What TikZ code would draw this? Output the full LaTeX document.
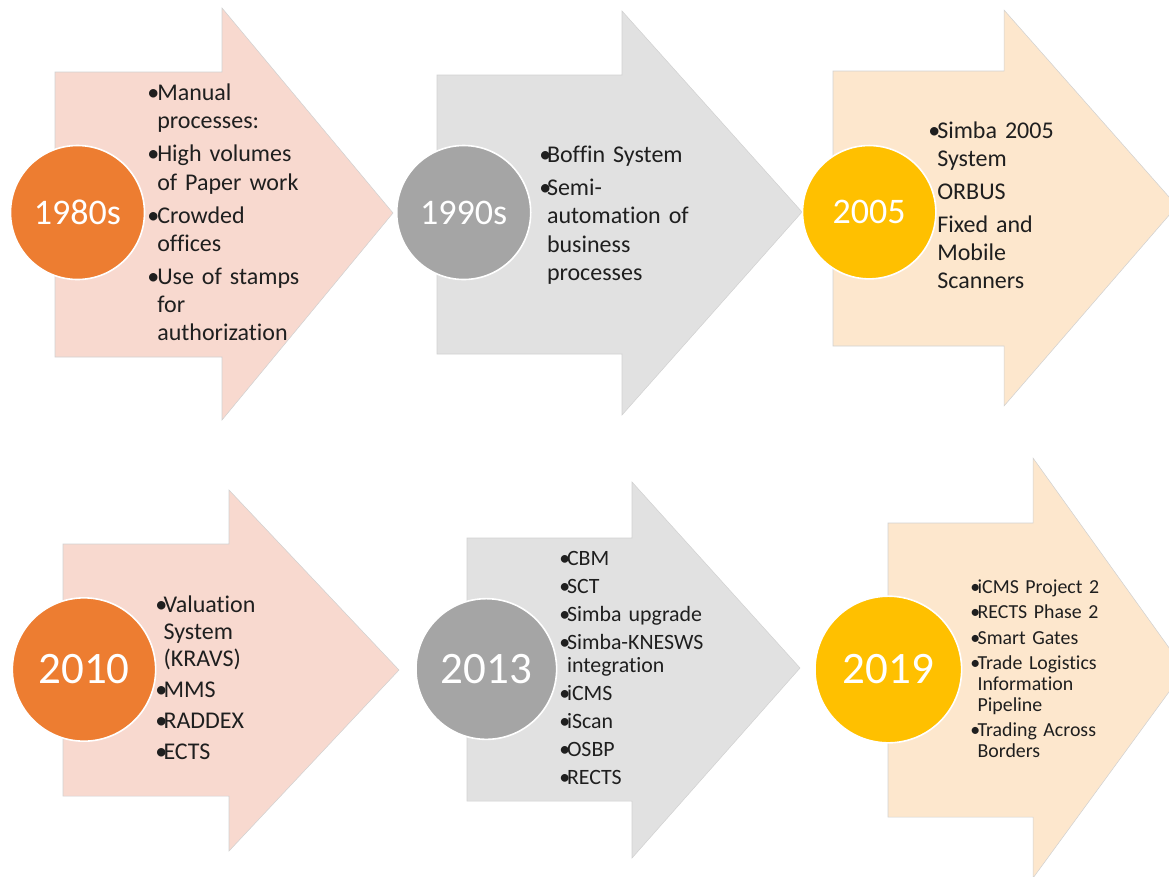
\documentclass[tikz,border=0pt]{standalone}
\usepackage{fontspec}
\setmainfont{Carlito}[Ligatures=NoCommon]

\definecolor{pinkarr}{RGB}{248,217,207}
\definecolor{greyarr}{RGB}{225,225,225}
\definecolor{peacharr}{RGB}{253,231,205}
\definecolor{orangedot}{RGB}{237,125,49}
\definecolor{greydot}{RGB}{165,165,165}
\definecolor{golddot}{RGB}{255,192,0}

\newlength\bw
\newlength\isep
\newcommand\fitm{\hangindent=\bw\hangafter=1\noindent\makebox[\bw][l]{\textbullet}}
\newcommand\itm{\par\setlength\parskip{\isep}\fitm}
\newcommand\nob{\par\setlength\parskip{\isep}\hangindent=\bw\hangafter=1\noindent\hspace*{\bw}}

\begin{document}
\begin{tikzpicture}[x=0.75pt,y=-0.75pt,
  arr/.style={line width=0.4pt,draw=black!18},
  yr/.style={circle,draw=white,line width=1.2pt,text=white,inner sep=0pt},
  lst/.style={anchor=base west,inner sep=0pt,text width=170pt,align=left,text=black!88}]
\useasboundingbox (0,0) rectangle (1169,876);
\clip (0,0) rectangle (1169,876);

\filldraw[arr,fill=pinkarr] (55,72) -- (222,72) -- (222,8) -- (393,213) -- (222,420) -- (222,357) -- (55,357) -- cycle;
\filldraw[arr,fill=greyarr] (437,75) -- (622,75) -- (622,11) -- (802,212) -- (622,415) -- (622,354) -- (437,354) -- cycle;
\filldraw[arr,fill=peacharr] (833,71) -- (1004,71) -- (1004,10) -- (1177,206) -- (1004,406) -- (1004,346) -- (833,346) -- cycle;

\filldraw[arr,fill=pinkarr] (63,544) -- (229,544) -- (229,490) -- (399,670) -- (229,851) -- (229,796) -- (63,796) -- cycle;
\filldraw[arr,fill=greyarr] (467,538) -- (632,538) -- (632,482) -- (800,668) -- (632,858) -- (632,801) -- (467,801) -- cycle;
\filldraw[arr,fill=peacharr] (888,523) -- (1033,523) -- (1033,458) -- (1185,670) -- (1033,878) -- (1033,817) -- (888,817) -- cycle;

\def\ta{\fontsize{27pt}{30pt}\selectfont}
\def\tb{\fontsize{33.75pt}{36pt}\selectfont}

\node[yr,fill=orangedot,minimum size=100.5pt,font=\ta] (y1980) at (77.5,212.5) {1980s};
\node[yr,fill=greydot,minimum size=100.5pt,font=\ta] (y1990) at (463.7,212.5) {1990s};
\node[yr,fill=golddot,minimum size=100pt,font=\ta] (y2005) at (869.2,212.2) {2005};

\node[yr,fill=orangedot,minimum size=107.5pt,font=\tb] (y2010) at (84,669.5) {2010};
\node[yr,fill=greydot,minimum size=105.5pt,font=\tb] (y2013) at (486.3,669) {2013};
\node[yr,fill=golddot,minimum size=110pt,font=\tb] (y2019) at (888.3,669.5) {2019};

\node[lst,font=\fontsize{18pt}{21.2pt}\selectfont] (l1980) at (147,100.7)
  {\setlength\bw{7.5pt}\setlength\isep{3.5pt}%
   \fitm Manual\newline processes:
   \itm High volumes\newline of Paper work
   \itm Crowded\newline offices
   \itm Use of stamps\newline for\newline authorization\par};
\node[lst,font=\fontsize{18pt}{21.2pt}\selectfont] (l1990) at (539,162.7)
  {\setlength\bw{5.8pt}\setlength\isep{3.5pt}%
   \fitm Boffin System
   \itm Semi-\newline automation of\newline business\newline processes\par};
\node[lst,font=\fontsize{18pt}{21.2pt}\selectfont] (l2005) at (928,138.3)
  {\setlength\bw{6.75pt}\setlength\isep{3.5pt}%
   \fitm Simba 2005\newline System
   \nob ORBUS
   \nob Fixed and\newline Mobile\newline Scanners\par};

\node[lst,font=\fontsize{18pt}{20.5pt}\selectfont] (l2010) at (155,612.3)
  {\setlength\bw{6.2pt}\setlength\isep{2.75pt}%
   \fitm Valuation\newline System\newline (KRAVS)
   \itm MMS
   \itm RADDEX
   \itm ECTS\par};
\node[lst,font=\fontsize{16.4pt}{17pt}\selectfont] (l2013) at (559,565)
  {\setlength\bw{5.8pt}\setlength\isep{4.1pt}%
   \fitm CBM
   \itm SCT
   \itm Simba upgrade
   \itm Simba-KNESWS\newline integration
   \itm iCMS
   \itm iScan
   \itm OSBP
   \itm RECTS\par};
\node[lst,font=\fontsize{14.9pt}{15.75pt}\selectfont] (l2019) at (970,593.3)
  {\setlength\bw{5.5pt}\setlength\isep{3.3pt}%
   \fitm iCMS Project 2
   \itm RECTS Phase 2
   \itm Smart Gates
   \itm Trade Logistics\newline Information\newline Pipeline
   \itm Trading Across\newline Borders\par};
\end{tikzpicture}
\end{document}
